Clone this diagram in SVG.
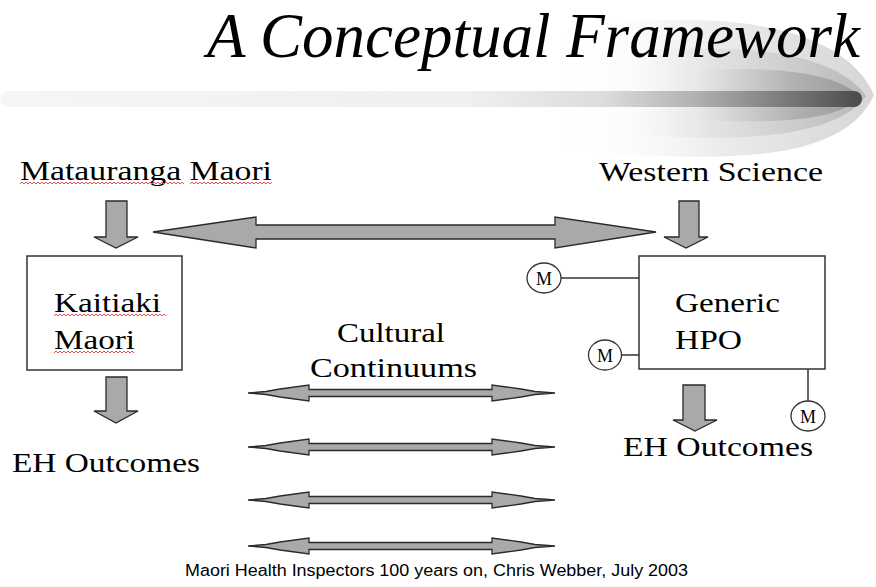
<svg xmlns="http://www.w3.org/2000/svg" width="876" height="587" viewBox="0 0 876 587">
  <defs>
    <style>
      svg { background: #fff; }
      .lbl { font-family: "Liberation Serif", "Times New Roman", serif; font-size: 28px; fill: #000; }
      .title { font-family: "Liberation Serif", "Times New Roman", serif; font-size: 64px; font-style: italic; fill: #000; }
      .foot { font-family: "Liberation Sans", Arial, sans-serif; font-size: 16px; fill: #000; }
      .block { fill: #a9a9a9; stroke: #2a2a2a; stroke-width: 1.3; stroke-linejoin: miter; }
      .box { fill: #fff; stroke: #333; stroke-width: 1.5; }
      .link { stroke: #333; stroke-width: 1.5; fill: none; }
      .mcirc { fill: #fff; stroke: #333; stroke-width: 1.3; }
      .mtxt { font-family: "Liberation Serif", "Times New Roman", serif; font-size: 18px; fill: #000; text-anchor: middle; }
      .squig { fill: none; stroke: #e85050; stroke-width: 1; }
    </style>
    <linearGradient id="barGrad" x1="0" y1="0" x2="1" y2="0">
      <stop offset="0" stop-color="#f6f6f6"/>
      <stop offset="0.55" stop-color="#efefef"/>
      <stop offset="0.7" stop-color="#dcdcdc"/>
      <stop offset="0.8" stop-color="#b4b4b4"/>
      <stop offset="0.9" stop-color="#808080"/>
      <stop offset="1" stop-color="#4a4a4a"/>
    </linearGradient>
    <linearGradient id="swoosh1" x1="0" y1="0" x2="1" y2="0">
      <stop offset="0" stop-color="#ffffff" stop-opacity="0"/>
      <stop offset="0.5" stop-color="#ececec"/>
      <stop offset="1" stop-color="#d6d6d6"/>
    </linearGradient>
    <linearGradient id="swoosh2" x1="0" y1="0" x2="1" y2="0">
      <stop offset="0" stop-color="#e8e8e8" stop-opacity="0"/>
      <stop offset="0.5" stop-color="#d8d8d8"/>
      <stop offset="1" stop-color="#b8b8b8"/>
    </linearGradient>
    <linearGradient id="swoosh3" x1="0" y1="0" x2="1" y2="0">
      <stop offset="0" stop-color="#cccccc" stop-opacity="0"/>
      <stop offset="0.6" stop-color="#b0b0b0"/>
      <stop offset="1" stop-color="#999999"/>
    </linearGradient>
  </defs>

  <rect width="876" height="587" fill="#fff"/>

  <!-- heading swoosh and bar -->
  <g id="heading">
    <path d="M 560,30 C 700,8 840,18 874,95 C 840,170 700,160 560,150 Z" fill="url(#swoosh1)"/>
    <path d="M 640,52 C 740,42 835,52 866,96 C 835,138 740,142 640,135 Z" fill="url(#swoosh2)"/>
    <path d="M 700,70 C 780,66 840,74 860,97 C 840,120 780,124 700,120 Z" fill="url(#swoosh3)"/>
    <rect x="0" y="91" width="862" height="16" rx="8" fill="url(#barGrad)"/>
    <text class="title" x="207" y="57" textLength="653" lengthAdjust="spacingAndGlyphs">A Conceptual Framework</text>
  </g>

  <!-- connectors -->
  <g id="connectors">
    <!-- central two-way arrow -->
    <polygon class="block" points="153,232 256,217 256,225 555,225 555,217 656,232 555,248 555,239 256,239 256,248"/>
    <!-- downward arrows -->
    <polygon class="block" points="106,201 127,201 127,237 138,237 116,248 94,237 106,237"/>
    <polygon class="block" points="106,377 127,377 127,411 138,411 116,423 94,411 106,411"/>
    <polygon class="block" points="679,201 699,201 699,237 708,237 686,248 664,237 679,237"/>
    <polygon class="block" points="683,385 705,385 705,420 717,420 695,431 673,420 683,420"/>
    <!-- cultural continuum arrows -->
    <polygon class="block" points="248,393 266,391.5 280,389 309,385 309,389.5 492,389.5 492,385 521,389 535,391.5 555,393 535,394.5 521,397 492,401 492,396.5 309,396.5 309,401 280,397 266,394.5"/>
    <polygon class="block" points="248,447 266,445.5 280,443 309,439 309,443.5 492,443.5 492,439 521,443 535,445.5 555,447 535,448.5 521,451 492,455 492,450.5 309,450.5 309,455 280,451 266,448.5"/>
    <polygon class="block" points="248,500 266,498.5 280,496 309,492 309,496.5 492,496.5 492,492 521,496 535,498.5 555,500 535,501.5 521,504 492,508 492,503.5 309,503.5 309,508 280,504 266,501.5"/>
    <polygon class="block" points="248,546 266,544.5 280,542 309,538 309,542.5 492,542.5 492,538 521,542 535,544.5 555,546 535,547.5 521,550 492,554 492,549.5 309,549.5 309,554 280,550 266,547.5"/>
    <!-- M links -->
    <line class="link" x1="561" y1="278" x2="639" y2="278"/>
    <line class="link" x1="622" y1="355" x2="639" y2="355"/>
    <line class="link" x1="808" y1="369" x2="808" y2="401"/>
  </g>

  <g id="matauranga">
    <text class="lbl" x="20" y="180" textLength="252" lengthAdjust="spacingAndGlyphs">Matauranga Maori</text>
    <path class="squig" d="M20,184 l2,-2 l2,2 l2,-2 l2,2 l2,-2 l2,2 l2,-2 l2,2 l2,-2 l2,2 l2,-2 l2,2 l2,-2 l2,2 l2,-2 l2,2 l2,-2 l2,2 l2,-2 l2,2 l2,-2 l2,2 l2,-2 l2,2 l2,-2 l2,2 l2,-2 l2,2 l2,-2 l2,2 l2,-2 l2,2 l2,-2 l2,2 l2,-2 l2,2 l2,-2 l2,2 l2,-2 l2,2 l2,-2 l2,2 l2,-2 l2,2 l2,-2 l2,2 l2,-2 l2,2 l2,-2 l2,2 l2,-2 l2,2 l2,-2 l2,2 l2,-2 l2,2 l2,-2 l2,2 l2,-2 l2,2 l2,-2 l2,2 l2,-2 l2,2 l2,-2 l2,2 l2,-2 l2,2 l2,-2 l2,2 l2,-2 l2,2 l2,-2 l2,2 l2,-2 l2,2 l2,-2 l2,2 l2,-2 l2,2 l2,-2 l2,2"/>
    <path class="squig" d="M190,184 l2,-2 l2,2 l2,-2 l2,2 l2,-2 l2,2 l2,-2 l2,2 l2,-2 l2,2 l2,-2 l2,2 l2,-2 l2,2 l2,-2 l2,2 l2,-2 l2,2 l2,-2 l2,2 l2,-2 l2,2 l2,-2 l2,2 l2,-2 l2,2 l2,-2 l2,2 l2,-2 l2,2 l2,-2 l2,2 l2,-2 l2,2 l2,-2 l2,2 l2,-2 l2,2 l2,-2 l2,2 l2,-2"/>
  </g>

  <g id="western-science">
    <text class="lbl" x="599" y="181" textLength="224" lengthAdjust="spacingAndGlyphs">Western Science</text>
  </g>

  <g id="kaitiaki-maori">
    <rect class="box" x="27" y="256" width="155" height="114"/>
    <text class="lbl" x="54" y="312" textLength="107" lengthAdjust="spacingAndGlyphs">Kaitiaki</text>
    <text class="lbl" x="54" y="349" textLength="81" lengthAdjust="spacingAndGlyphs">Maori</text>
    <path class="squig" d="M54,316 l2,-2 l2,2 l2,-2 l2,2 l2,-2 l2,2 l2,-2 l2,2 l2,-2 l2,2 l2,-2 l2,2 l2,-2 l2,2 l2,-2 l2,2 l2,-2 l2,2 l2,-2 l2,2 l2,-2 l2,2 l2,-2 l2,2 l2,-2 l2,2 l2,-2 l2,2 l2,-2 l2,2 l2,-2 l2,2 l2,-2 l2,2 l2,-2 l2,2 l2,-2 l2,2 l2,-2 l2,2 l2,-2 l2,2 l2,-2 l2,2 l2,-2 l2,2 l2,-2 l2,2 l2,-2 l2,2 l2,-2 l2,2 l2,-2 l2,2 l2,-2 l2,2"/>
    <path class="squig" d="M54,353 l2,-2 l2,2 l2,-2 l2,2 l2,-2 l2,2 l2,-2 l2,2 l2,-2 l2,2 l2,-2 l2,2 l2,-2 l2,2 l2,-2 l2,2 l2,-2 l2,2 l2,-2 l2,2 l2,-2 l2,2 l2,-2 l2,2 l2,-2 l2,2 l2,-2 l2,2 l2,-2 l2,2 l2,-2 l2,2 l2,-2 l2,2 l2,-2 l2,2 l2,-2 l2,2 l2,-2 l2,2"/>
  </g>

  <g id="eh-outcomes-left">
    <text class="lbl" x="12" y="472" textLength="188" lengthAdjust="spacingAndGlyphs">EH Outcomes</text>
  </g>

  <g id="generic-hpo">
    <rect class="box" x="639" y="256" width="186" height="113"/>
    <text class="lbl" x="675" y="312" textLength="105" lengthAdjust="spacingAndGlyphs">Generic</text>
    <text class="lbl" x="675" y="349" textLength="67" lengthAdjust="spacingAndGlyphs">HPO</text>
  </g>

  <g id="m-top">
    <ellipse class="mcirc" cx="544" cy="278" rx="17" ry="15"/>
    <text class="mtxt" x="544" y="284.5">M</text>
  </g>
  <g id="m-middle">
    <ellipse class="mcirc" cx="605" cy="355" rx="16.5" ry="15"/>
    <text class="mtxt" x="605" y="361.5">M</text>
  </g>
  <g id="m-bottom">
    <ellipse class="mcirc" cx="808" cy="416" rx="17" ry="15"/>
    <text class="mtxt" x="808" y="422.5">M</text>
  </g>

  <g id="eh-outcomes-right">
    <text class="lbl" x="623" y="456" textLength="190" lengthAdjust="spacingAndGlyphs">EH Outcomes</text>
  </g>

  <g id="cultural-continuums">
    <text class="lbl" x="337" y="342" textLength="108" lengthAdjust="spacingAndGlyphs">Cultural</text>
    <text class="lbl" x="310" y="377" textLength="167" lengthAdjust="spacingAndGlyphs">Continuums</text>
  </g>

  <g id="footer">
    <text class="foot" x="185" y="576" textLength="503" lengthAdjust="spacingAndGlyphs">Maori Health Inspectors 100 years on, Chris Webber, July 2003</text>
  </g>
</svg>
